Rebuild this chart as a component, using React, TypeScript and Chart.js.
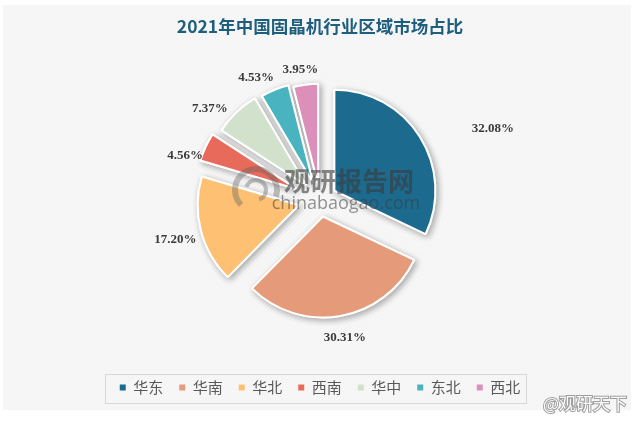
import React, { useEffect, useRef } from "react";
import { Chart, registerables } from "chart.js";

Chart.register(...registerables);

// ---- data ----
const regions = ["华东", "华南", "华北", "西南", "华中", "东北", "西北"];
const shares = [32.08, 30.31, 17.2, 4.56, 7.37, 4.53, 3.95];
const titleText = "2021年中国固晶机行业区域市场占比";

// ---- styles ----
const colors = ["#1c6a8e", "#e59b7a", "#fec174", "#e76a5a", "#d2e1cc", "#49b3bf", "#db8fb9"];
const explode = [17, 17, 22, 25, 20, 18, 15];
const labelDist = [187, 140, 150, 142, 143, 138, 132];
const labelShiftDeg = [9.8, -0.3, -1, -6.6, -6.5, -5.2, -1.4];

const bgPlugin = {
  id: "bgPanel",
  beforeDraw(chart: any) {
    const { ctx, width, height } = chart;
    ctx.save();
    ctx.fillStyle = "#ffffff";
    ctx.fillRect(0, 0, width, height);
    const x0 = 3, y0 = 5, x1 = 631, y1 = 410;
    ctx.fillStyle = "#f7f7f7";
    ctx.fillRect(x0, y0, x1 - x0, y1 - y0);
    ctx.beginPath();
    ctx.rect(x0, y0, x1 - x0, y1 - y0);
    ctx.clip();
    ctx.strokeStyle = "rgba(0,0,0,0.02)";
    ctx.lineWidth = 1;
    for (let s = -height; s < width + height; s += 4) {
      ctx.beginPath();
      ctx.moveTo(s, y1);
      ctx.lineTo(s + (y1 - y0), y0);
      ctx.stroke();
    }
    ctx.restore();
  },
};

const explodePlugin = {
  id: "explodeArcs",
  beforeDatasetDraw(chart: any, args: any) {
    const ctx = chart.ctx;
    const arcs = args.meta.data;
    for (let pass = 0; pass < 2; pass++) {
      arcs.forEach((arc: any, i: number) => {
        const { startAngle, endAngle } = arc.getProps(["startAngle", "endAngle"], true);
        const mid = (startAngle + endAngle) / 2;
        ctx.save();
        ctx.translate(Math.cos(mid) * explode[i], Math.sin(mid) * explode[i]);
        if (pass === 0) {
          ctx.shadowColor = "rgba(0,0,0,0.3)";
          ctx.shadowBlur = 6;
          ctx.shadowOffsetX = 2;
          ctx.shadowOffsetY = 2;
        }
        arc.draw(ctx, chart.chartArea);
        ctx.restore();
      });
    }
    return false;
  },
};

const labelPlugin = {
  id: "sliceLabels",
  afterDatasetsDraw(chart: any) {
    const ctx = chart.ctx;
    const meta = chart.getDatasetMeta(0);
    ctx.save();
    ctx.font = "bold 13px 'Liberation Serif', serif";
    ctx.fillStyle = "#3a3a3a";
    ctx.textAlign = "center";
    ctx.textBaseline = "middle";
    meta.data.forEach((arc: any, i: number) => {
      const { x, y, startAngle, endAngle } = arc.getProps(["x", "y", "startAngle", "endAngle"], true);
      const a = (startAngle + endAngle) / 2 + (labelShiftDeg[i] * Math.PI) / 180;
      const d = labelDist[i];
      ctx.fillText(shares[i].toFixed(2) + "%", x + Math.cos(a) * d, y + Math.sin(a) * d);
    });
    ctx.restore();
  },
  afterDraw(chart: any) {
    const ctx = chart.ctx;
    // legend frame
    const hb = chart.legend && chart.legend.legendHitBoxes;
    if (hb && hb.length) {
      const first = hb[0];
      const last = hb[hb.length - 1];
      const cy = first.top + first.height / 2;
      ctx.save();
      ctx.strokeStyle = "#d9d9d9";
      ctx.lineWidth = 1;
      ctx.strokeRect(Math.round(first.left - 15) + 0.5, Math.round(cy - 14) + 0.5,
        Math.round(last.left + last.width + 5 - (first.left - 15)), 29);
      ctx.restore();
    }
    // watermarks
    ctx.save();
    ctx.textAlign = "center";
    ctx.textBaseline = "middle";
    ctx.fillStyle = "rgba(60,60,60,0.6)";
    ctx.font = "bold 26px 'Noto Sans CJK SC', sans-serif";
    ctx.fillText("观研报告网", 349, 181);
    ctx.fillStyle = "rgba(60,60,60,0.55)";
    ctx.font = "18px 'Open Sans', sans-serif";
    ctx.fillText("chinabaogao.com", 346, 204);
    ctx.strokeStyle = "rgba(100,100,100,0.4)";
    ctx.lineWidth = 6;
    ctx.beginPath();
    ctx.arc(256, 190, 21, Math.PI * 0.75, Math.PI * 2.1);
    ctx.stroke();
    ctx.lineWidth = 4;
    ctx.beginPath();
    ctx.arc(256, 190, 10, Math.PI * 1.1, Math.PI * 2.4);
    ctx.stroke();
    ctx.font = "17px 'Noto Sans CJK SC', sans-serif";
    ctx.lineWidth = 2;
    ctx.strokeStyle = "rgba(120,120,120,0.7)";
    ctx.strokeText("@观研天下", 585, 404);
    ctx.fillStyle = "rgba(255,255,255,0.95)";
    ctx.fillText("@观研天下", 585, 404);
    ctx.restore();
  },
};

export default function App() {
  const ref = useRef<HTMLCanvasElement | null>(null);
  useEffect(() => {
    document.body.style.margin = "0";
    const canvas = ref.current;
    if (!canvas) return;
    const chart = new Chart(canvas, {
      type: "pie",
      data: {
        labels: regions,
        datasets: [
          {
            data: shares,
            backgroundColor: colors,
            borderColor: "#ffffff",
            borderWidth: 2,
          },
        ],
      },
      options: {
        responsive: false,
        animation: false,
        radius: 101,
        layout: { padding: { top: 0, bottom: 19, left: 0, right: 0 } },
        plugins: {
          title: {
            display: true,
            text: titleText,
            color: "#1e5f7e",
            font: { family: "'Noto Sans CJK SC', sans-serif", size: 17.5, weight: "bold", lineHeight: 1 },
            padding: { top: 18, bottom: 0 },
          },
          legend: {
            position: "bottom",
            labels: {
              boxWidth: 6,
              boxHeight: 6,
              padding: 16,
              color: "#595959",
              font: { family: "'Noto Sans CJK SC', sans-serif", size: 15 },
              generateLabels: (c: any) =>
                c.data.labels.map((l: string, i: number) => ({
                  text: l,
                  fillStyle: colors[i],
                  strokeStyle: colors[i],
                  lineWidth: 0,
                  hidden: false,
                  index: i,
                  fontColor: "#595959",
                })),
            },
          },
          tooltip: { enabled: false },
        },
      } as any,
      plugins: [bgPlugin, explodePlugin, labelPlugin],
    });
    return () => chart.destroy();
  }, []);
  return (
    <div style={{ width: 640, height: 424 }}>
      <canvas ref={ref} width={640} height={424} style={{ display: "block" }} />
    </div>
  );
}
